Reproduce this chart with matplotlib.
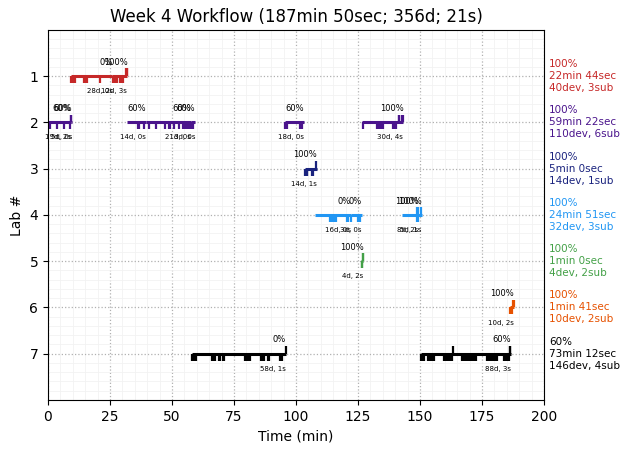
import matplotlib
matplotlib.use("Agg")
import matplotlib.pyplot as plt
import matplotlib.transforms as mtransforms
from matplotlib.ticker import AutoMinorLocator

# segments per lab: (start min, end min, score %, devices, submissions)
lab1_segments = [(9.3, 26.0, 0, 28, 0), (26.0, 32.0, 100, 12, 3)]
lab2_segments = [(0.0, 9.3, 60, 19, 2), (9.3, 9.7, 60, 5, 0),
                 (31.8, 39.5, 60, 14, 0), (39.5, 57.6, 60, 21, 0), (57.6, 59.3, 60, 3, 0),
                 (95.4, 103.4, 60, 18, 0), (126.6, 143.3, 100, 30, 4)]
lab3_segments = [(103.5, 108.5, 100, 14, 1)]
lab4_segments = [(107.7, 122.2, 0, 16, 0), (122.2, 126.5, 0, 3, 0),
                 (142.6, 149.4, 100, 8, 2), (149.4, 150.7, 100, 5, 1)]
lab5_segments = [(126.2, 127.2, 100, 4, 2)]
lab6_segments = [(186.3, 188.0, 100, 10, 2)]
lab7_segments = [(58.2, 95.8, 0, 58, 1), (150.5, 186.6, 60, 88, 3)]

# device events (down ticks)
lab1_devices = [9.4, 9.9, 10.4, 10.9, 14.5, 15.1, 15.9, 21.0, 26.3, 26.8, 27.4,
                27.9, 29.2, 29.8, 30.4]
lab2_devices = [0.9, 3.7, 6.5, 8.9, 36.2, 36.8, 38.6, 40.6, 43.4, 47.3, 48.7, 49.3,
                50.7, 52.7, 54.6, 55.2, 55.9, 56.6, 57.2, 57.8, 58.4, 95.6, 96.3,
                101.8, 102.5, 127.0, 132.8, 133.5, 134.2, 134.9, 139.2, 139.8, 140.5]
lab3_devices = [103.6, 104.3, 104.6, 106.6, 106.9]
lab4_devices = [113.8, 114.2, 114.6, 115.5, 116.0, 120.5, 121.0, 122.3, 125.2,
                125.7, 148.8, 149.1]
lab5_devices = [126.5, 126.7]
lab6_devices = [186.4, 186.6, 186.8, 187.0]
lab7_devices = [58.2, 58.7, 59.2, 59.6, 66.3, 66.8, 67.4, 68.9, 69.3, 70.5, 70.9,
                79.6, 80.1, 80.6, 81.1, 81.5, 85.7, 86.2, 86.7, 87.3, 88.6, 89.0,
                93.7, 94.3, 150.6, 151.0, 151.5, 153.4, 154.0, 154.5, 155.2, 155.8,
                159.5, 160.0, 160.5, 161.2, 161.8, 162.4, 162.8, 167.0, 167.6, 168.2,
                168.8, 169.5, 170.2, 171.0, 171.8, 172.5, 177.1, 177.6, 178.2, 179.0,
                179.7, 180.5, 181.2, 183.7, 184.4, 185.2, 185.9]

# submissions (up ticks)
lab1_subs = [31.6, 31.8, 32.0]
lab2_subs = [9.2, 9.3, 141.4, 141.7, 142.9, 143.1]
lab3_subs = [107.9]
lab4_subs = [148.9, 149.2, 150.3]
lab5_subs = [127.0, 127.1]
lab6_subs = [187.6, 187.9]
lab7_subs = [95.8, 163.3, 186.3, 186.5]

# summary text on the right
summary_scores = ["100%", "100%", "100%", "100%", "100%", "100%", "60%"]
summary_times = ["22min 44sec", "59min 22sec", "5min 0sec", "24min 51sec",
                 "1min 0sec", "1min 41sec", "73min 12sec"]
summary_counts = ["40dev, 3sub", "110dev, 6sub", "14dev, 1sub", "32dev, 3sub",
                  "4dev, 2sub", "10dev, 2sub", "146dev, 4sub"]

lab_colors = ["#c62828", "#4a148c", "#1a237e", "#2196f3", "#43a047", "#e65100", "black"]

title = "Week 4 Workflow (187min 50sec; 356d; 21s)"


def main():
    segments = [lab1_segments, lab2_segments, lab3_segments, lab4_segments,
                lab5_segments, lab6_segments, lab7_segments]
    devices = [lab1_devices, lab2_devices, lab3_devices, lab4_devices,
               lab5_devices, lab6_devices, lab7_devices]
    subs = [lab1_subs, lab2_subs, lab3_subs, lab4_subs, lab5_subs, lab6_subs, lab7_subs]

    fig = plt.figure(figsize=(6.34, 4.53), dpi=100)
    ax = fig.add_axes([0.0757, 0.117, 0.7823, 0.817])

    trans = mtransforms.blended_transform_factory(ax.transAxes, ax.transData)

    for i in range(7):
        lab = i + 1
        color = lab_colors[i]
        for start, end, pct, dev, sub in segments[i]:
            ax.hlines(lab, start, end, color=color, linewidth=2.2)
            ax.text(end, lab - 0.2, f"{pct}%", ha="right", va="bottom", fontsize=6)
            ax.text(end, lab + 0.26, f"{dev}d, {sub}s", ha="right", va="top", fontsize=5)
        ax.vlines(devices[i], lab, lab + 0.15, color=color, linewidth=1.6)
        ax.vlines(subs[i], lab - 0.17, lab, color=color, linewidth=1.6)
        text = f"{summary_scores[i]}\n{summary_times[i]}\n{summary_counts[i]}"
        ax.text(1.01, lab, text, transform=trans, ha="left", va="center",
                fontsize=7.5, color=color, linespacing=1.25)

    ax.set_xlim(0, 200)
    ax.set_ylim(8, 0)
    ax.set_xticks([0, 25, 50, 75, 100, 125, 150, 175, 200])
    ax.set_yticks([1, 2, 3, 4, 5, 6, 7])
    ax.xaxis.set_minor_locator(AutoMinorLocator())
    ax.yaxis.set_minor_locator(AutoMinorLocator())
    ax.tick_params(which="minor", length=0)
    ax.grid(True, which="major", linestyle=":", color="#b0b0b0", linewidth=0.9)
    ax.grid(True, which="minor", linestyle="-", color="#f2f2f2", linewidth=0.6)
    ax.set_axisbelow(True)

    ax.set_xlabel("Time (min)")
    ax.set_ylabel("Lab #")
    ax.set_title(title, fontsize=12)

    fig.savefig("out.png", dpi=100)


if __name__ == "__main__":
    main()
